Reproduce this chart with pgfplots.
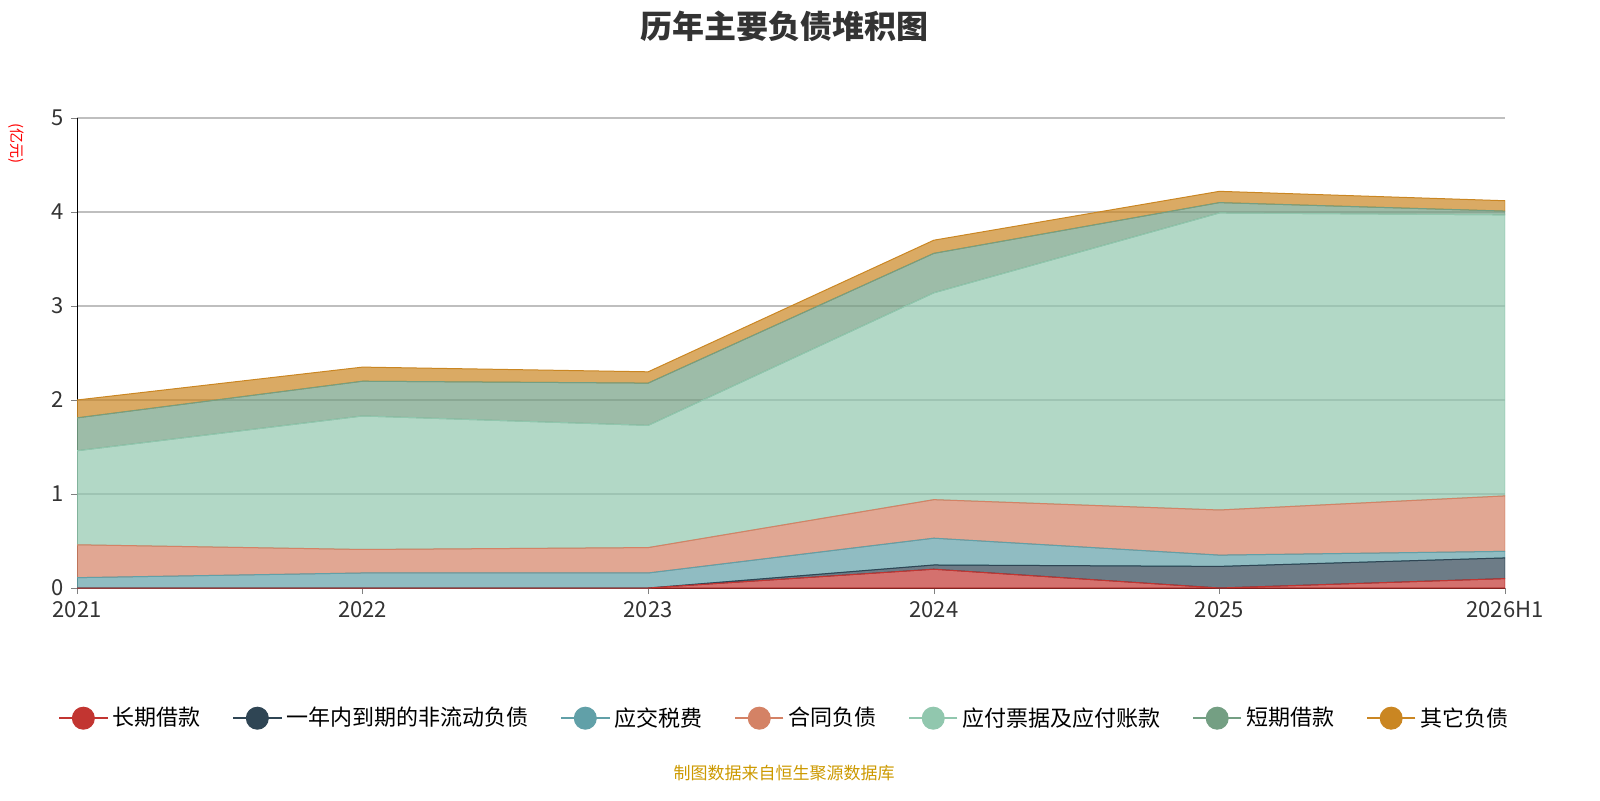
\documentclass[border=0pt]{standalone}
\usepackage{pgfplots}
\pgfplotsset{compat=1.18}
\usepackage{fontspec}
\setmainfont{Noto Sans CJK SC}
\definecolor{c1}{HTML}{C23531}
\definecolor{c2}{HTML}{2F4554}
\definecolor{c3}{HTML}{61A0A8}
\definecolor{c4}{HTML}{D48265}
\definecolor{c5}{HTML}{91C7AE}
\definecolor{c6}{HTML}{749F83}
\definecolor{c7}{HTML}{CA8622}
\pgfplotsset{ser/.style={draw=#1,line width=0.5pt,fill=#1,fill opacity=0.7,
  legend image code/.code={\draw[#1,line width=0.8pt,opacity=1] (0,0)--(0.85cm,0); \fill[#1,opacity=1] (0.425cm,0) circle (5.5pt);}}}
\begin{document}
\begin{tikzpicture}
\useasboundingbox (0,0) rectangle (800pt,400pt);
\node[font=\bfseries\fontsize{16}{19}\selectfont,text=black!80] at (392pt,387pt) {历年主要负债堆积图};
\node[rotate=-90,text=red,font=\fontsize{7.5}{8}\selectfont] at (8pt,328pt) {(亿元)};
\node[text={rgb,255:red,204;green,153;blue,0},font=\fontsize{8.5}{9}\selectfont] at (392pt,13.5pt) {制图数据来自恒生聚源数据库};
\begin{axis}[at={(38.5pt,106pt)},anchor=south west,scale only axis,width=714pt,height=235pt,
  stack plots=y, xmin=0,xmax=5,ymin=0,ymax=5,
  xtick={0,...,5},xticklabels={2021,2022,2023,2024,2025,2026H1},
  ytick={0,1,2,3,4,5},
  axis x line*=bottom, axis y line*=left,
  ymajorgrids, grid style={gray!50,line width=0.6pt},
  tick label style={font=\fontsize{11}{13}\selectfont,text=black!80},
  /pgf/number format/assume math mode=true,
  tick align=outside, major tick length=3pt,
  legend columns=7,
  legend style={at={(0.496,-0.277)},anchor=center,draw=none,font=\fontsize{11}{13}\selectfont,
    /tikz/every even column/.append style={column sep=14pt}},
  ]
\addplot[ser=c1] coordinates {(0,0)(1,0)(2,0)(3,0.20)(4,0)(5,0.10)} \closedcycle;
\addplot[ser=c2] coordinates {(0,0)(1,0)(2,0)(3,0.045)(4,0.23)(5,0.22)} \closedcycle;
\addplot[ser=c3] coordinates {(0,0.11)(1,0.16)(2,0.16)(3,0.285)(4,0.12)(5,0.07)} \closedcycle;
\addplot[ser=c4] coordinates {(0,0.35)(1,0.25)(2,0.27)(3,0.41)(4,0.48)(5,0.59)} \closedcycle;
\addplot[ser=c5] coordinates {(0,1.00)(1,1.42)(2,1.30)(3,2.20)(4,3.16)(5,2.99)} \closedcycle;
\addplot[ser=c6] coordinates {(0,0.35)(1,0.37)(2,0.45)(3,0.42)(4,0.11)(5,0.04)} \closedcycle;
\addplot[ser=c7] coordinates {(0,0.19)(1,0.15)(2,0.12)(3,0.14)(4,0.12)(5,0.11)} \closedcycle;
\legend{长期借款,一年内到期的非流动负债,应交税费,合同负债,应付票据及应付账款,短期借款,其它负债}
\end{axis}
\end{tikzpicture}
\end{document}
